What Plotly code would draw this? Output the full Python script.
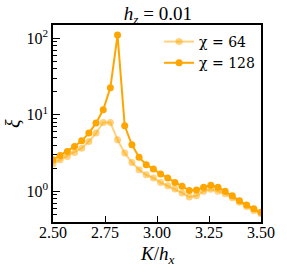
import numpy as np
import plotly.graph_objects as go

K = np.linspace(2.5, 3.5, 30)

xi_chi64 = [2.29, 2.58, 2.85, 3.21, 3.66, 4.47, 5.75, 7.91, 7.91, 4.70,
            3.15, 2.38, 1.91, 1.64, 1.49, 1.30, 1.18, 1.07, 0.95, 0.84,
            0.87, 1.00, 1.06, 1.00, 0.93, 0.82, 0.72, 0.63, 0.56, 0.51]
xi_chi128 = [2.58, 2.93, 3.31, 3.85, 4.56, 5.75, 7.77, 11.6, 22.6, 110.0,
             7.16, 4.05, 2.79, 2.22, 1.95, 1.68, 1.49, 1.30, 1.16, 1.02,
             1.04, 1.13, 1.20, 1.13, 1.00, 0.87, 0.75, 0.66, 0.59, 0.53]

x_ticks = [2.5, 2.75, 3.0, 3.25, 3.5]
x_ticklabels = ["2.50", "2.75", "3.00", "3.25", "3.50"]
y_ticks = [1, 10, 100]
y_ticklabels = ["10<sup>0</sup>", "10<sup>1</sup>", "10<sup>2</sup>"]

FONT = "Liberation Serif"
FONT2 = "DejaVu Serif"

fig = go.Figure()
fig.add_trace(go.Scatter(
    x=K, y=xi_chi64, mode="lines+markers", name="χ = 64",
    line=dict(color="rgba(255,165,0,0.5)", width=2),
    marker=dict(color="rgba(255,165,0,0.5)", size=7, line=dict(width=0)),
))
fig.add_trace(go.Scatter(
    x=K, y=xi_chi128, mode="lines+markers", name="χ = 128",
    line=dict(color="rgb(255,165,0)", width=2),
    marker=dict(color="rgb(255,165,0)", size=7, line=dict(width=0)),
))

fig.update_layout(
    width=287, height=272,
    margin=dict(l=53, r=20, t=25, b=50),
    paper_bgcolor="white", plot_bgcolor="white",
    font=dict(family=FONT, size=16, color="black"),
    title=dict(text="<i>h</i><sub><i>z</i></sub> = 0.01", x=0.55, xanchor="center",
               y=0.95, yanchor="middle", font=dict(family=FONT, size=19)),
    showlegend=True,
    legend=dict(x=0.51, y=0.995, xanchor="left", yanchor="top",
                bgcolor="rgba(0,0,0,0)", font=dict(family=FONT2, size=14),
                itemwidth=30, tracegroupgap=0),
    annotations=[
        dict(text="<i>K</i>/<i>h</i><sub><i>x</i></sub>", xref="paper", yref="paper",
             x=0.5, y=-0.165, xanchor="center", yanchor="middle", showarrow=False,
             font=dict(family=FONT, size=19)),
        dict(text="<i>ξ</i>", xref="paper", yref="paper", textangle=-90,
             x=-0.195, y=0.5, xanchor="center", yanchor="middle", showarrow=False,
             font=dict(family=FONT, size=20)),
    ],
)
fig.update_xaxes(
    range=[2.5, 3.5], tickvals=x_ticks, ticktext=x_ticklabels,
    showline=True, linecolor="black", linewidth=1.5, mirror=True,
    ticks="inside", ticklen=6, tickwidth=1, tickcolor="black",
    showgrid=False, zeroline=False, ticklabelstandoff=-5,
    tickfont=dict(family=FONT, size=16),
)
fig.update_yaxes(
    type="log", range=[np.log10(0.396), np.log10(149)],
    tickvals=y_ticks, ticktext=y_ticklabels,
    showline=True, linecolor="black", linewidth=1.5, mirror=True,
    ticks="inside", ticklen=7, tickwidth=1, tickcolor="black",
    minor=dict(ticks="inside", ticklen=4, tickwidth=1, tickcolor="black",
               dtick="D1", showgrid=False),
    showgrid=False, zeroline=False,
    tickfont=dict(family=FONT, size=16),
)

fig.write_html("out.html", config={"displayModeBar": False},
               post_script="document.body.style.margin='0';document.body.style.padding='0';")
